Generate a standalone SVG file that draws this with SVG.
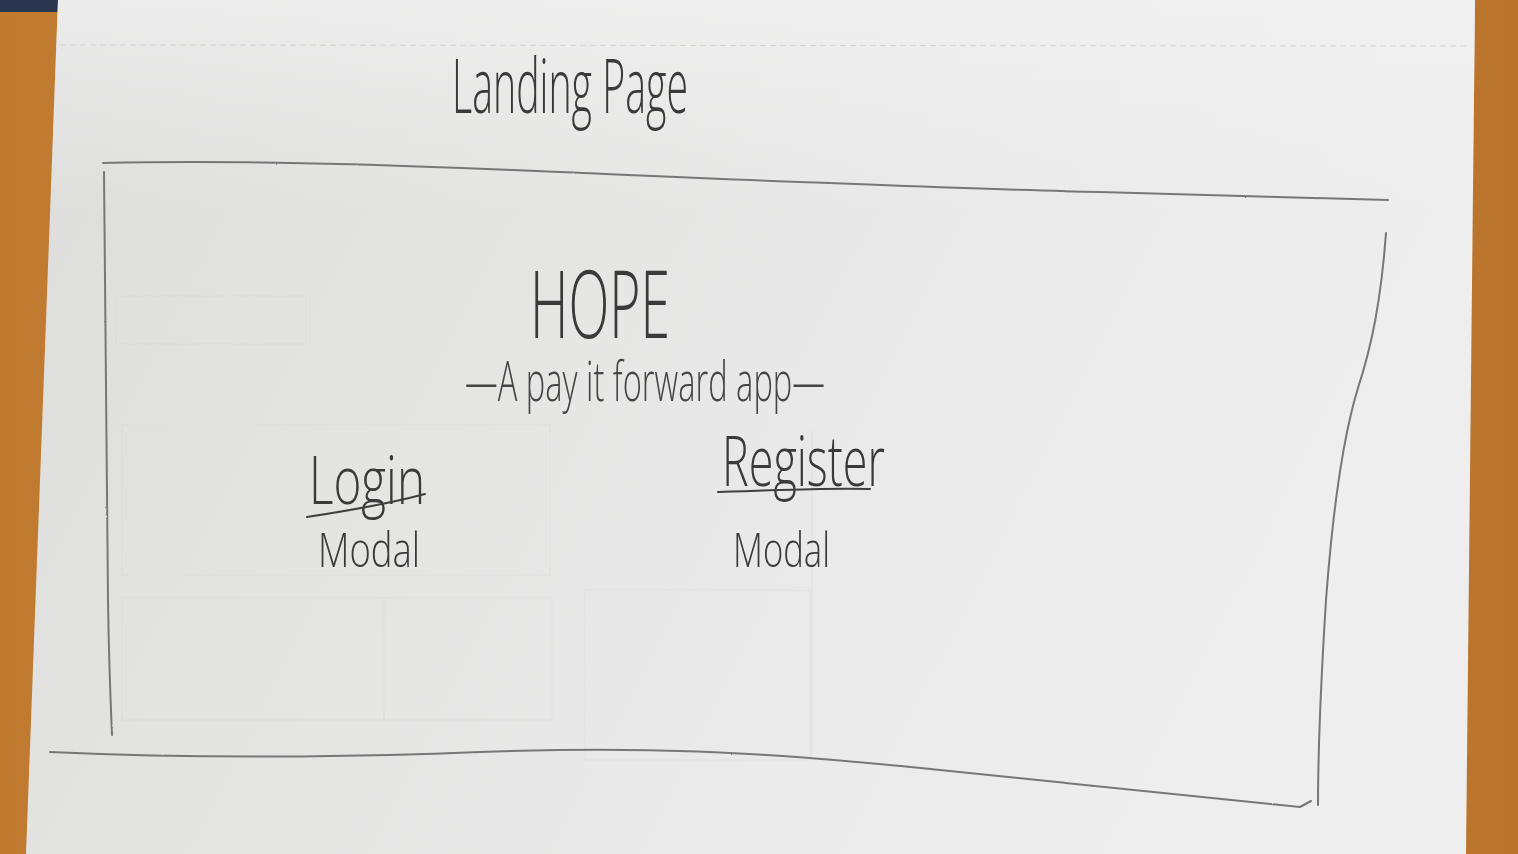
<svg xmlns="http://www.w3.org/2000/svg" width="1518" height="854" viewBox="0 0 1518 854">
  <defs>
    <linearGradient id="wood" x1="0" y1="0" x2="1" y2="0">
      <stop offset="0" stop-color="#c07a30"/>
      <stop offset="0.5" stop-color="#cf8c42"/>
      <stop offset="1" stop-color="#b9732b"/>
    </linearGradient>
    <linearGradient id="paper" x1="0" y1="0" x2="1" y2="0.3">
      <stop offset="0" stop-color="#dcdcdb"/>
      <stop offset="0.35" stop-color="#e4e4e3"/>
      <stop offset="0.75" stop-color="#ebebeb"/>
      <stop offset="1" stop-color="#eeeeee"/>
    </linearGradient>
    <linearGradient id="paperTop" x1="0" y1="0" x2="0" y2="1">
      <stop offset="0" stop-color="#f2f2f2" stop-opacity="0.7"/>
      <stop offset="0.25" stop-color="#f2f2f2" stop-opacity="0"/>
      <stop offset="1" stop-color="#ffffff" stop-opacity="0"/>
    </linearGradient>
    <filter id="graphite" x="-5%" y="-5%" width="110%" height="110%">
      <feTurbulence type="fractalNoise" baseFrequency="0.9" numOctaves="2" seed="3" result="n"/>
      <feDisplacementMap in="SourceGraphic" in2="n" scale="1.4"/>
    </filter>
  </defs>
  <style>
    .pencil { fill: none; stroke: #777777; stroke-width: 2; stroke-linecap: round; stroke-linejoin: round; }
    .ink { fill: none; stroke: #3f3f3f; stroke-width: 2; stroke-linecap: round; }
    .ghost { fill: none; stroke: #d0d0d0; stroke-width: 1.5; opacity: 0.5; }
    .hand { font-family: "Open Sans", "DejaVu Sans", sans-serif; font-weight: 300; fill: #3a3a3a; }
    .soft { fill: #454545; }
  </style>

  <!-- table -->
  <rect x="0" y="0" width="1518" height="854" fill="url(#wood)"/>
  <rect x="0" y="0" width="60" height="12" fill="#2a3550"/>

  <!-- paper sheet -->
  <polygon points="58,0 1475,0 1466,854 26,854" fill="url(#paper)"/>
  <polygon points="58,0 1475,0 1466,854 26,854" fill="url(#paperTop)"/>
  <line x1="60" y1="45" x2="1470" y2="46" stroke="#d4d4d4" stroke-width="1" stroke-dasharray="6 4"/>

  <!-- faint show-through from the reverse side -->
  <g id="showthrough" opacity="0.45">
    <rect class="ghost" x="116" y="296" width="190" height="48"/>
    <rect class="ghost" x="122" y="425" width="428" height="150"/>
    <rect class="ghost" x="122" y="598" width="262" height="122"/>
    <rect class="ghost" x="384" y="598" width="168" height="122"/>
    <rect class="ghost" x="585" y="590" width="225" height="170"/>
    <line class="ghost" x1="812" y1="430" x2="812" y2="760"/>
  </g>

  <!-- title above the frame -->
  <g id="title">
    <text class="hand" x="452" y="113" font-size="76" textLength="236" lengthAdjust="spacingAndGlyphs">Landing Page</text>
  </g>

  <!-- page frame -->
  <g id="frame" filter="url(#graphite)">
    <path class="pencil" d="M103,163 C250,160 400,165 560,172 C750,180 950,189 1100,192 C1250,196 1330,199 1388,200"/>
    <path class="pencil" d="M104,172 C105,300 106,450 108,600 C109,670 111,710 112,735"/>
    <path class="pencil" d="M1386,233 C1381,300 1372,345 1358,388 C1342,440 1332,520 1326,600 C1321,680 1318,745 1318,805"/>
    <path class="pencil" d="M50,752 C180,758 330,758 480,752 C640,746 760,752 900,766 C1050,781 1200,797 1300,807 L1311,801"/>
  </g>

  <!-- app name -->
  <g id="hope">
    <text class="hand" x="530" y="338" font-size="94" textLength="140" lengthAdjust="spacingAndGlyphs">HOPE</text>
  </g>
  <g id="tagline">
    <text class="hand soft" x="465" y="401" font-size="55" font-weight="400" textLength="360" lengthAdjust="spacingAndGlyphs">—A pay it forward app—</text>
  </g>

  <!-- login -->
  <g id="login">
    <text class="hand" x="309" y="504" font-size="66" textLength="116" lengthAdjust="spacingAndGlyphs">Login</text>
    <path class="ink" d="M307,517 C340,512 380,506 425,494"/>
    <text class="hand" x="318" y="567" font-size="48" textLength="102" lengthAdjust="spacingAndGlyphs">Modal</text>
  </g>

  <!-- register -->
  <g id="register">
    <text class="hand" x="722" y="486" font-size="70" textLength="163" lengthAdjust="spacingAndGlyphs">Register</text>
    <path class="ink" d="M718,492 C770,490 830,488 870,489"/>
    <text class="hand" x="733" y="567" font-size="48" textLength="97" lengthAdjust="spacingAndGlyphs">Modal</text>
  </g>
</svg>
